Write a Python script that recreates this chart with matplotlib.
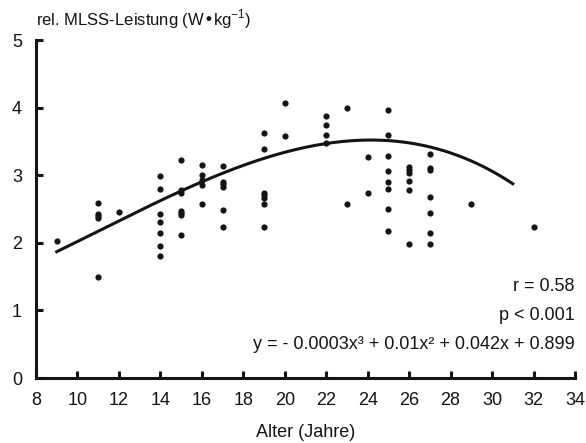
import numpy as np
import matplotlib
matplotlib.use("Agg")
import matplotlib.pyplot as plt

plt.rcParams['font.family'] = ['Liberation Sans', 'DejaVu Sans']

# -----------------------------
# Data
# -----------------------------
alter = [9,
         11, 11, 11, 11, 11,
         12,
         14, 14, 14, 14, 14, 14, 14,
         15, 15, 15, 15, 15, 15, 15,
         16, 16, 16, 16, 16,
         17, 17, 17, 17, 17, 17,
         19, 19, 19, 19, 19, 19, 19,
         20, 20,
         22, 22, 22, 22,
         23, 23,
         24, 24,
         25, 25, 25, 25, 25, 25, 25, 25,
         26, 26, 26, 26, 26, 26,
         27, 27, 27, 27, 27, 27, 27,
         29,
         32]
leistung = [2.02,
            2.59, 2.43, 2.39, 2.37, 1.50,
            2.45,
            2.99, 2.80, 2.42, 2.31, 2.15, 1.95, 1.80,
            3.23, 2.78, 2.73, 2.47, 2.44, 2.41, 2.11,
            3.15, 3.01, 2.93, 2.85, 2.58,
            3.13, 2.90, 2.87, 2.83, 2.48, 2.24,
            3.63, 3.39, 2.73, 2.70, 2.67, 2.58, 2.24,
            4.07, 3.58,
            3.88, 3.75, 3.60, 3.47,
            4.00, 2.58,
            3.27, 2.73,
            3.97, 3.60, 3.29, 3.06, 2.90, 2.80, 2.50, 2.18,
            3.12, 3.08, 3.03, 2.92, 2.78, 1.98,
            3.32, 3.11, 3.08, 2.68, 2.44, 2.14, 1.98,
            2.57,
            2.23]

# fitted polynomial from the chart: y = a x^3 + b x^2 + c x + d
coef = [-0.0003, 0.01, 0.042, 0.899]
fit_range = (9, 31)

x_ticks = list(range(8, 35, 2))
y_ticks = [0, 1, 2, 3, 4, 5]

# -----------------------------
# Plot
# -----------------------------
fig = plt.figure(figsize=(5.86, 4.43), dpi=100)
ax = fig.add_axes([0.0614, 0.1467, 0.9198, 0.763])

ax.scatter(alter, leistung, s=20, color='#141414', zorder=3, linewidths=0)

xf = np.linspace(fit_range[0], fit_range[1], 200)
ax.plot(xf, np.polyval(coef, xf), color='#141414', lw=2.2, zorder=2)

ax.set_xlim(8, 34)
ax.set_ylim(0, 5)
ax.set_xticks(x_ticks)
ax.set_yticks(y_ticks)
ax.spines['top'].set_visible(False)
ax.spines['right'].set_visible(False)
for s in ['left', 'bottom']:
    ax.spines[s].set_linewidth(2.2)
    ax.spines[s].set_color('#141414')
    ax.spines[s].set_clip_on(False)
ax.tick_params(direction='in', length=5, width=2.2, color='#141414',
               labelsize=13, colors='#141414')
ax.tick_params(axis='x', pad=10)
ax.tick_params(axis='y', pad=10)

ax.set_xlabel('Alter (Jahre)', fontsize=13, labelpad=11, color='#141414')
ax.text(0.0, 1.028, r'rel. MLSS-Leistung (W•kg$^{\mathregular{-1}}$)',
        transform=ax.transAxes, fontsize=12, ha='left', va='bottom',
        color='#141414')

ax.text(34, 1.35, 'r = 0.58', ha='right', va='center', fontsize=13, color='#141414')
ax.text(34, 0.92, 'p < 0.001', ha='right', va='center', fontsize=13, color='#141414')
ax.text(34, 0.50, 'y = - 0.0003x³ + 0.01x² + 0.042x + 0.899',
        ha='right', va='center', fontsize=13, color='#141414')

fig.savefig('out.png', dpi=100)
